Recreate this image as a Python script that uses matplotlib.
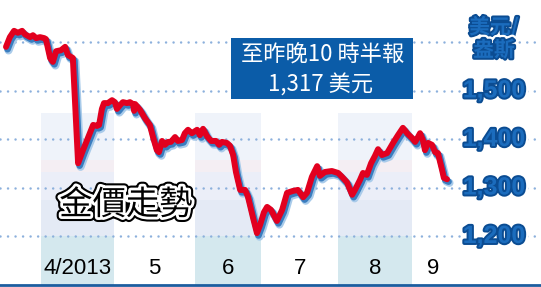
import matplotlib
matplotlib.use('Agg')
import matplotlib.pyplot as plt
import matplotlib.patheffects as pe
from matplotlib.patches import Rectangle

plt.rcParams['font.family'] = ['Noto Sans CJK TC', 'DejaVu Sans']

# ---- data (x = trading-day index, 0 = 1 April 2013) ----
day = [-10.0, -8.9, -7.7, -6.6, -5.4, -4.6, -3.1, -2.3, -1.4, -0.3,
       0.9, 1.4, 2.6, 3.4, 4.3, 5.7, 6.9, 7.7, 9.1, 10.6,
       12.0, 13.4, 14.9, 16.0, 16.6, 17.4, 18.0, 19.1, 20.3, 21.1,
       21.7, 22.6, 23.4, 24.6, 25.4, 26.3, 26.6, 26.9, 28.3, 29.7,
       31.1, 32.0, 33.1, 33.7, 34.6, 35.4, 36.3, 37.1, 38.3, 39.1,
       40.3, 41.1, 42.0, 43.1, 44.6, 45.4, 46.3, 47.4, 48.6, 50.0,
       50.9, 51.7, 53.1, 54.0, 54.9, 55.7, 56.9, 58.3, 59.1, 60.6,
       61.7, 62.6, 63.7, 64.6, 65.7, 67.4, 68.9, 70.3, 72.0, 73.4,
       74.9, 76.0, 77.4, 78.9, 79.7, 81.1, 83.1, 84.9, 86.0, 87.4,
       88.9, 89.7, 91.1, 92.0, 93.1, 94.3, 95.4, 96.3, 97.4, 98.9,
       100.6, 102.0, 103.4, 104.6, 106.0, 106.9, 107.7, 108.3, 109.1, 109.7,
       110.6, 111.7, 112.6, 113.4, 114.6, 115.1, 116.0]
price = [1590, 1610, 1623, 1619, 1623, 1616, 1610, 1614, 1608, 1610,
         1608, 1606, 1567, 1559, 1581, 1583, 1590, 1573, 1567, 1350,
         1377, 1402, 1429, 1427, 1429, 1462, 1474, 1474, 1480, 1476,
         1462, 1470, 1476, 1474, 1476, 1472, 1458, 1472, 1460, 1443,
         1429, 1404, 1377, 1373, 1396, 1388, 1394, 1394, 1404, 1396,
         1398, 1412, 1419, 1412, 1419, 1408, 1421, 1406, 1396, 1396,
         1388, 1394, 1392, 1386, 1367, 1332, 1295, 1295, 1282, 1237,
         1206, 1223, 1249, 1260, 1254, 1231, 1254, 1289, 1293, 1295,
         1280, 1289, 1322, 1344, 1324, 1332, 1334, 1330, 1322, 1311,
         1285, 1295, 1315, 1330, 1326, 1350, 1365, 1379, 1367, 1371,
         1392, 1408, 1423, 1412, 1402, 1394, 1404, 1412, 1398, 1377,
         1392, 1388, 1373, 1371, 1336, 1320, 1317]

month_labels = ['4/2013', '5', '6', '7', '8', '9']
month_starts = [0, 21, 44, 63, 85, 106]
shaded_months = [0, 2, 4]
tick_values = [1200, 1300, 1400, 1500]
tick_labels = ['1,200', '1,300', '1,400', '1,500']
grid_levels = [1200, 1300, 1400, 1500, 1600]
unit_lines = ['美元/', '盎斯']
title = '金價走勢'
note_lines = ['至昨晚10 時半報', '1,317 美元']

# ---- figure ----
W, H = 541, 287
fig = plt.figure(figsize=(W / 100, H / 100), dpi=100)
ax = fig.add_axes([0, 2 / H, 1, 285 / H])
ax.set_xlim(-41 / 3.5, 500 / 3.5)
ax.set_ylim(1099, 1686.6)
ax.set_xticks([])
ax.set_yticks([])
for s in ['top', 'left', 'right']:
    ax.spines[s].set_visible(False)
ax.spines['bottom'].set_color('#1d5d9f')
ax.spines['bottom'].set_linewidth(2.0)

# shaded month bands (layered tints)
band_layers = [(1099, 1200, '#d4e8ee'), (1200, 1274, '#e4eaf5'),
               (1274, 1332, '#ebeef8'), (1332, 1357, '#f4eef3'),
               (1357, 1454, '#eff3fa')]
for i in shaded_months:
    x0, x1 = month_starts[i], month_starts[i + 1]
    for lo, hi, c in band_layers:
        ax.fill_between([x0, x1], lo, hi, color=c, lw=0, zorder=0)

# dotted grid lines
for g in grid_levels:
    ax.axhline(g, color='#8cb0dc', lw=1.8, linestyle=(0, (0.01, 3.0)),
               dash_capstyle='round', zorder=1)

# price line with blue shadow
ax.plot(day, price, color='#e2001f', lw=4.3, solid_joinstyle='round',
        solid_capstyle='round', zorder=5,
        path_effects=[pe.Stroke(offset=(1.8, -2.6), linewidth=5.8, foreground='#a9cbea'),
                      pe.Stroke(offset=(1.1, -1.7), linewidth=4.8, foreground='#3a7dbf'),
                      pe.Normal()])

# month labels
xt = ax.get_xaxis_transform()
centers = [(month_starts[i] + month_starts[i + 1]) / 2 for i in range(len(month_starts) - 1)]
centers.append((month_starts[-1] + day[-1] + 2) / 2)
for c, lab in zip(centers, month_labels):
    ax.text(c, 17 / 285, lab, transform=xt, ha='center', va='center',
            fontsize=16, family=['Liberation Sans', 'DejaVu Sans'], color='black', zorder=6)

# right-side value labels
blue_fx = [pe.Stroke(linewidth=6, foreground='white'),
           pe.Stroke(linewidth=2.8, foreground='#0b4c92'),
           pe.Normal()]
yt = ax.get_yaxis_transform()
for v, lab in zip(tick_values, tick_labels):
    ax.text(494 / W, v, lab, transform=yt, ha='center', va='center',
            fontsize=18, fontweight='bold', color='#1b6cbd',
            family=['Liberation Sans', 'DejaVu Sans'], path_effects=blue_fx, zorder=7)
for k, line in enumerate(unit_lines):
    fig.text(494 / W, 1 - (27 + 23 * k) / H, line, ha='center', va='center',
             fontsize=15, fontweight='bold', color='#1b6cbd',
             path_effects=blue_fx, zorder=7)

# note box
box = Rectangle((231 / W, 1 - 99 / H), (413 - 231) / W, (99 - 37.5) / H,
                transform=fig.transFigure, facecolor='#0b5ca8', edgecolor='none', zorder=8)
fig.patches.append(box)
fig.text(323 / W, 1 - 55 / H, note_lines[0], ha='center', va='center',
         fontsize=16, color='white', zorder=9)
fig.text(321 / W, 1 - 85 / H, note_lines[1], ha='center', va='center',
         fontsize=16, color='white', zorder=9)

# title
fig.text(126 / W, 1 - 205 / H, title, ha='center', va='center', fontsize=24,
         fontweight='medium', color='black', zorder=9,
         path_effects=[pe.Stroke(linewidth=7, foreground='black'),
                       pe.Stroke(linewidth=4, foreground='white'),
                       pe.Normal()])

fig.savefig('out.png', dpi=100)
